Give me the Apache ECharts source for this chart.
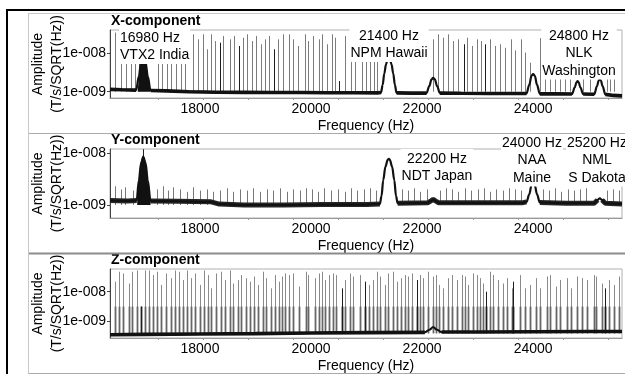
<!DOCTYPE html>
<html>
<head>
<meta charset="utf-8">
<script src="https://cdn.jsdelivr.net/npm/echarts@6/dist/echarts.min.js"></script>
<style>
  html, body { margin: 0; padding: 0; background: #fff; }
  #chart { width: 625px; height: 374px; }
</style>
</head>
<body>
<div id="chart"></div>
<script>
// VLF magnetic spectra of three components (log amplitude vs frequency)

const panelTitles = ['X-component', 'Y-component', 'Z-component'];
const freqRange = [16380, 25600];
const xLabelHz = [18000, 20000, 22000, 24000];
const xTickHz = [17250, 18060, 18870, 19680, 20490, 21300, 22110, 22920, 23730, 24540, 25350];
const yLabelAmp = [1e-9, 1e-8];
const ampRanges = [[0.685e-9, 4.08e-8], [0.56e-9, 1.21e-8], [0.263e-9, 5.95e-8]];

// noise floor (with transmitter peaks) per component: [Hz, amplitude]
const xFloor = [
  [16380, 1.15e-9], [16600, 1.12e-9], [16850, 1.1e-9], [16900, 2.5e-9], [16940, 6e-9], [16980, 8.2e-9],
  [17020, 6e-9], [17060, 2.5e-9], [17110, 1.08e-9], [17400, 1.05e-9], [17800, 1.0e-9], [18300, 0.97e-9],
  [18800, 0.96e-9], [19300, 0.95e-9], [19800, 0.95e-9], [20300, 0.94e-9], [20800, 0.94e-9], [21200, 0.93e-9],
  [21260, 0.95e-9], [21290, 1.5e-9], [21320, 3e-9], [21350, 5.2e-9], [21380, 7e-9], [21400, 7.5e-9],
  [21420, 7e-9], [21450, 5.2e-9], [21480, 3e-9], [21510, 1.5e-9], [21540, 0.93e-9], [21800, 0.92e-9],
  [22080, 0.92e-9], [22130, 1.4e-9], [22170, 2.1e-9], [22200, 2.3e-9], [22230, 2.1e-9], [22270, 1.4e-9],
  [22320, 0.92e-9], [22700, 0.91e-9], [23200, 0.9e-9], [23600, 0.9e-9], [23880, 0.9e-9], [23930, 1.5e-9],
  [23970, 2.6e-9], [24000, 2.9e-9], [24030, 2.6e-9], [24070, 1.5e-9], [24120, 0.88e-9], [24400, 0.88e-9],
  [24700, 0.87e-9], [24750, 1.3e-9], [24780, 1.75e-9], [24800, 1.9e-9], [24820, 1.75e-9], [24850, 1.3e-9],
  [24900, 0.87e-9], [25100, 0.86e-9], [25150, 1.4e-9], [25180, 1.95e-9], [25200, 2.1e-9], [25220, 1.95e-9],
  [25250, 1.4e-9], [25300, 0.85e-9], [25450, 0.8e-9], [25600, 0.78e-9]
];
const yFloor = [
  [16380, 1.22e-9], [16700, 1.2e-9], [16860, 1.22e-9], [16900, 3e-9], [16940, 6.5e-9], [16980, 8.5e-9],
  [17020, 6.5e-9], [17060, 3e-9], [17110, 1.2e-9], [17600, 1.18e-9], [18200, 1.15e-9], [18350, 1.04e-9],
  [18800, 1.0e-9], [19500, 1.0e-9], [20200, 1.02e-9], [21000, 1.02e-9], [21240, 1.05e-9], [21270, 1.5e-9],
  [21300, 3e-9], [21340, 5.5e-9], [21380, 7.5e-9], [21400, 7.8e-9], [21420, 7.5e-9], [21460, 5.5e-9],
  [21500, 3e-9], [21530, 1.5e-9], [21560, 1.08e-9], [22100, 1.1e-9], [22160, 1.2e-9], [22200, 1.28e-9],
  [22240, 1.2e-9], [22300, 1.1e-9], [23000, 1.1e-9], [23800, 1.1e-9], [23880, 1.15e-9], [23930, 1.6e-9],
  [23970, 2.4e-9], [24000, 2.65e-9], [24030, 2.4e-9], [24070, 1.6e-9], [24120, 1.12e-9], [24600, 1.08e-9],
  [25100, 1.08e-9], [25160, 1.25e-9], [25200, 1.35e-9], [25240, 1.25e-9], [25300, 1.08e-9], [25600, 1.05e-9]
];
const zFloor = [
  [16380, 0.34e-9], [17000, 0.35e-9], [18000, 0.36e-9], [19000, 0.37e-9], [20000, 0.39e-9], [21000, 0.4e-9],
  [22050, 0.41e-9], [22130, 0.5e-9], [22200, 0.62e-9], [22270, 0.5e-9], [22350, 0.42e-9], [23000, 0.42e-9],
  [24000, 0.43e-9], [25000, 0.44e-9], [25600, 0.44e-9]
];

// dense VTX2 blob outline (upper edge)
const xBlob = [[16880, 1.1e-9], [16910, 2.8e-9], [16940, 6e-9], [16965, 8.5e-9], [16980, 9.5e-9], [17000, 8e-9], [17030, 5e-9], [17060, 2.5e-9], [17100, 1.1e-9]];
const yBlob = [[16870, 1.2e-9], [16900, 3.2e-9], [16930, 6.5e-9], [16960, 8.5e-9], [16980, 9.5e-9], [17010, 7.5e-9], [17040, 4.5e-9], [17070, 2.2e-9], [17110, 1.2e-9]];

// interference comb lines: [Hz, top amplitude]
const xSpikes = [
  [16474, 3.5e-8], [16582, 3e-8], [16672, 3e-8], [16751, 2.5e-8], [16823, 3e-8], [16901, 2.8e-8], [17243, 3e-8],
  [17321, 2.6e-8], [17411, 3e-8], [17483, 2.4e-8], [17573, 3e-8], [17663, 2.8e-8], [17735, 3e-8], [17874, 3.15e-8],
  [17964, 2.33e-8], [18054, 3.15e-8], [18132, 1.28e-8], [18204, 3.15e-8], [18265, 2.1e-8], [18355, 1.9e-8],
  [18414, 2.85e-8], [18535, 2.33e-8], [18613, 2.85e-8], [18703, 1.56e-8], [18775, 2.57e-8], [18852, 3.15e-8],
  [18937, 2.1e-8], [19014, 2.85e-8], [19094, 1.73e-8], [19166, 2.33e-8], [19243, 2.85e-8], [19328, 1.28e-8],
  [19405, 2.33e-8], [19501, 3.15e-8], [19609, 3.15e-8], [19670, 2.33e-8], [19771, 1.56e-8], [19892, 3.15e-8],
  [19951, 2.1e-8], [20041, 2.85e-8], [20150, 2.33e-8], [20193, 3.15e-8], [20283, 1.73e-8], [20373, 3.15e-8],
  [20432, 2.57e-8], [20510, 1.9e-9], [20613, 2.85e-8], [20715, 1.9e-8], [20793, 3.15e-8], [20914, 3e-8],
  [20991, 3e-8], [21063, 3e-8], [21135, 3e-8], [21184, 3e-8], [22204, 2.33e-8], [22294, 3.15e-8], [22384, 2.57e-8],
  [22474, 3.15e-8], [22553, 2.1e-8], [22654, 2.33e-8], [22757, 1.73e-8], [22805, 2.57e-8], [22895, 1.56e-8],
  [22996, 2.33e-8], [23058, 2.1e-8], [23135, 1.73e-8], [23225, 2.33e-8], [23315, 1.56e-8], [23405, 1.73e-8],
  [23495, 1.4e-8], [23598, 2.33e-8], [23676, 1.2e-8], [23778, 2.33e-8], [23856, 1.05e-8], [23946, 5.7e-9],
  [24126, 2.5e-8], [24216, 2.5e-8], [24306, 2.5e-8], [24396, 2.5e-8], [24486, 2.5e-8], [24577, 2.5e-8],
  [24667, 2.5e-8], [24906, 2.5e-8], [25027, 2.5e-8], [25328, 2.5e-8], [25387, 2.5e-8], [25447, 2.5e-8]
];
const xDarkHz = [18355, 18703, 19328, 20510, 22757, 23135];

const ySpikes = [
  [16468, 2.3e-9], [16577, 2.0e-9], [16649, 2.2e-9], [16793, 1.9e-9], [16980, 1.2e-8], [17225, 2.0e-9],
  [17333, 2.3e-9], [17423, 1.9e-9], [17514, 2.2e-9], [17640, 2.0e-9], [17766, 1.8e-9], [17874, 2.2e-9],
  [18000, 1.9e-9], [18126, 2.0e-9], [18234, 1.8e-9], [18360, 1.9e-9], [18486, 2.1e-9], [18595, 1.8e-9],
  [18721, 2.0e-9], [18847, 1.9e-9], [18955, 2.1e-9], [19081, 1.8e-9], [19207, 2.0e-9], [19315, 1.9e-9],
  [19441, 2.1e-9], [19568, 1.8e-9], [19676, 2.0e-9], [19802, 1.9e-9], [19910, 2.1e-9], [20018, 2.0e-9],
  [20126, 1.8e-9], [20234, 2.1e-9], [20360, 1.9e-9], [20486, 2.0e-9], [20613, 1.8e-9], [20721, 2.1e-9],
  [20829, 1.9e-9], [20955, 2.0e-9], [21063, 2.1e-9], [21171, 1.9e-9], [21640, 2.0e-9], [21748, 1.9e-9],
  [21856, 2.1e-9], [21964, 1.8e-9], [22090, 2.0e-9], [22324, 1.9e-9], [22432, 2.1e-9], [22541, 2.0e-9],
  [22649, 1.8e-9], [22775, 2.1e-9], [22883, 1.9e-9], [23009, 2.0e-9], [23117, 2.1e-9], [23225, 1.8e-9],
  [23333, 2.0e-9], [23459, 1.9e-9], [23568, 2.1e-9], [23676, 2.0e-9], [23784, 1.9e-9], [24180, 2.0e-9],
  [24288, 1.9e-9], [24396, 2.1e-9], [24505, 1.8e-9], [24631, 2.0e-9], [24739, 1.9e-9], [24847, 2.0e-9],
  [24955, 2.1e-9], [25333, 1.9e-9], [25441, 2.0e-9], [25549, 1.9e-9]
];
const yDarkHz = [16980];

const zSpikes = [
  [16462, 2.2e-8], [16535, 4.8e-8], [16613, 4.2e-8], [16715, 1.9e-8], [16775, 4.8e-8], [16871, 5.3e-8],
  [16943, 3.1e-9], [17003, 5.3e-8], [17075, 5.3e-8], [17153, 3.7e-8], [17231, 4.8e-8], [17303, 1.7e-8],
  [17393, 4.2e-8], [17483, 2.9e-8], [17544, 5.3e-8], [17616, 4.8e-8], [17694, 2.5e-8], [17766, 5.3e-8],
  [17832, 2.9e-8], [17916, 4.2e-8], [17994, 1.7e-8], [18072, 5.3e-8], [18144, 3.7e-8], [18204, 1.3e-8],
  [18294, 4.2e-8], [18384, 4.8e-8], [18444, 2.5e-8], [18535, 5.3e-8], [18595, 1.9e-8], [18685, 2.5e-8],
  [18745, 3.7e-8], [18823, 2.9e-8], [18895, 2.2e-8], [18973, 3.3e-8], [19045, 1.7e-8], [19135, 4.8e-8],
  [19195, 2.9e-8], [19285, 1.3e-8], [19345, 3.7e-8], [19417, 2.2e-8], [19471, 3.3e-8], [19540, 4.2e-8],
  [19610, 3.7e-8], [19670, 4.2e-8], [19790, 1.5e-8], [19910, 4.8e-8], [19952, 3.7e-8], [20072, 2.9e-8],
  [20150, 4.2e-8], [20192, 4.8e-8], [20252, 2.5e-8], [20330, 3.7e-8], [20402, 4.2e-8], [20450, 3.7e-8],
  [20553, 1.3e-8], [20613, 2.5e-8], [20703, 4.2e-8], [20763, 3.3e-8], [20883, 3.7e-8], [20973, 2.2e-8],
  [21051, 1.7e-8], [21111, 2.5e-8], [21183, 4.8e-8], [21243, 3.3e-8], [21333, 1.7e-8], [21393, 4.2e-8],
  [21470, 4.8e-8], [21544, 2.2e-8], [21616, 2.9e-8], [21694, 3.7e-8], [21740, 3.3e-8], [21820, 4.2e-8],
  [21904, 2.5e-8], [21964, 3.7e-8], [22024, 2.9e-8], [22110, 4.8e-8], [22204, 3.3e-8], [22250, 3.7e-8],
  [22312, 1.7e-8], [22384, 1.3e-8], [22474, 2.9e-8], [22535, 3.7e-8], [22625, 2.5e-8], [22715, 3.7e-8],
  [22775, 3.3e-8], [22835, 1.7e-8], [22910, 4.2e-8], [22985, 3.7e-8], [23045, 2.9e-8], [23105, 1.9e-8],
  [23153, 1e-8], [23220, 4.8e-8], [23285, 3.7e-8], [23375, 2.5e-8], [23453, 1.9e-8], [23526, 2.9e-8],
  [23616, 1.3e-8], [23646, 2.2e-8], [23766, 3.7e-8], [23856, 1.3e-8], [23946, 1.7e-8], [24054, 2.9e-8],
  [24126, 1.3e-8], [24246, 3.3e-8], [24306, 3.7e-8], [24414, 1.5e-8], [24486, 2.5e-8], [24606, 2.9e-8],
  [24679, 1.3e-8], [24787, 3.3e-8], [24877, 2.9e-8], [24967, 2.5e-8], [25087, 3.7e-8], [25135, 3.3e-8],
  [25237, 1.9e-8], [25297, 1.3e-8], [25357, 2.5e-8], [25447, 1.7e-8], [25537, 3.3e-8]
];
const zDarkHz = [16943, 20553, 20973, 21904, 23153, 23646, 25297];
const zBandTop = 3.1e-9;

// base level each comb line rises from
const spikeBase = [1.0e-9, 1.0e-9, 0.38e-9];

// transmitter annotations
const stationLabels = [
  ['16980 Hz\nVTX2 India', 0],
  ['21400 Hz\nNPM Hawaii', 0],
  ['24800 Hz\nNLK\nWashington', 0],
  ['22200 Hz\nNDT Japan', 1],
  ['24000 Hz\nNAA\nMaine', 1],
  ['25200 Hz\nNML\nS Dakota', 1]
];

const FONT = '"Liberation Sans", Arial, sans-serif';
const gridTops = [30, 149, 269];
const gridH = [68, 69, 69];

function decadeLabel(v) {
  const e = Math.round(Math.log10(v));
  if (Math.abs(Math.log10(v) - e) > 1e-6) return '';
  const s = String(Math.abs(e)).padStart(3, '0');
  return '1e' + (e < 0 ? '-' : '+') + s;
}

function spikeSeries(gi, spikes, dark, base, light, strong, width, capTop) {
  return {
    type: 'custom', xAxisIndex: gi, yAxisIndex: gi, z: 2, silent: true, clip: true,
    data: spikes.map(s => [s[0], capTop ? Math.min(s[1], capTop) : s[1], dark.includes(s[0]) ? 1 : 0]),
    renderItem(params, api) {
      const p0 = api.coord([api.value(0), base]);
      const p1 = api.coord([api.value(0), api.value(1)]);
      const x = Math.round(p0[0]) + 0.5;
      return {
        type: 'line',
        shape: { x1: x, y1: p0[1], x2: x, y2: p1[1] },
        style: { stroke: api.value(2) ? strong : light, lineWidth: width }
      };
    }
  };
}

function blobSeries(gi, pts, base) {
  return {
    type: 'custom', xAxisIndex: gi, yAxisIndex: gi, z: 5, silent: true,
    data: [pts[0]],
    renderItem(params, api) {
      const poly = pts.map(p => api.coord(p));
      poly.push(api.coord([pts[pts.length - 1][0], base]));
      poly.push(api.coord([pts[0][0], base]));
      return { type: 'polygon', shape: { points: poly }, style: { fill: '#111' } };
    }
  };
}

function floorSeries(gi, pts, width, flatMax, bandWidth, bandColor) {
  const out = [{
    type: 'line', xAxisIndex: gi, yAxisIndex: gi, z: 5, silent: true,
    data: pts, showSymbol: false, smooth: 0.35, smoothMonotone: 'x',
    lineStyle: { color: '#111', width: width }
  }];
  if (bandWidth) {
    out.push({
      type: 'line', xAxisIndex: gi, yAxisIndex: gi, z: 4, silent: true,
      data: pts.map(p => [p[0], p[1] <= flatMax ? p[1] : null]),
      showSymbol: false, connectNulls: false,
      lineStyle: { color: bandColor, width: bandWidth }
    });
  }
  return out;
}

const grids = gridTops.map((t, i) => ({ left: 110, top: t, width: 512, height: gridH[i], show: true, borderColor: '#b0b0b0', borderWidth: 1, backgroundColor: 'transparent' }));

const xAxes = gridTops.map((t, i) => ({
  type: 'value', gridIndex: i, min: freqRange[0], max: freqRange[1],
  axisLine: { show: true, lineStyle: { color: '#999', width: 1 } },
  axisTick: { show: true, customValues: xTickHz, length: 2, lineStyle: { color: '#999' } },
  axisLabel: { customValues: xLabelHz, formatter: v => String(v), color: '#000', fontSize: 14, margin: 4, fontFamily: FONT },
  splitLine: { show: false },
  name: 'Frequency (Hz)', nameLocation: 'middle', nameGap: 21, nameMoveOverlap: false,
  nameTextStyle: { color: '#000', fontSize: 14, fontFamily: FONT }
}));

const yAxes = gridTops.map((t, i) => ({
  type: 'log', logBase: 10, gridIndex: i, min: ampRanges[i][0], max: ampRanges[i][1],
  axisLine: { show: true, lineStyle: { color: '#444', width: 1 } },
  axisTick: { show: true, customValues: yLabelAmp, length: 3, lineStyle: { color: '#444' } },
  axisLabel: { customValues: yLabelAmp, formatter: decadeLabel, color: '#000', fontSize: 14, margin: 4, fontFamily: FONT },
  splitLine: { show: false }, minorTick: { show: false },
  name: 'Amplitude\n(T/s/SQRT(Hz))', nameLocation: 'middle', nameGap: 43, nameRotate: 90, nameMoveOverlap: false,
  nameTextStyle: { color: '#000', fontSize: 14, lineHeight: 19, fontFamily: FONT }
}));

const series = [
  spikeSeries(0, xSpikes, xDarkHz, spikeBase[0], '#7c7c7c', '#1e1e1e', 1),
  ...floorSeries(0, xFloor, 2.2, 1.2e-9, 3.6, '#151515'),
  blobSeries(0, xBlob, spikeBase[0]),

  spikeSeries(1, ySpikes, yDarkHz, spikeBase[1], '#777', '#222', 1),
  ...floorSeries(1, yFloor, 2.2, 1.3e-9, 5, '#262626'),
  blobSeries(1, yBlob, spikeBase[1]),

  spikeSeries(2, zSpikes, zDarkHz, spikeBase[2], '#8a8a8a', '#1e1e1e', 1),
  spikeSeries(2, zSpikes, zDarkHz, spikeBase[2], '#666', '#1e1e1e', 1.8, zBandTop),
  ...floorSeries(2, zFloor, 2, 0.45e-9, 3.6, '#151515')
];

// annotation layout (pixel placement of the text blocks)
const labelPos = [[119, 28, 'left'], [389, 26, 'center'], [579, 26, 'center'], [437, 149, 'center'], [532, 133, 'center'], [597, 133, 'center']];

const graphic = [];
stationLabels.forEach((s, i) => {
  const [x, y, align] = labelPos[i];
  graphic.push({
    type: 'text', z: 50, silent: true,
    style: {
      text: s[0], x: x, y: y, fill: '#000', font: '14px ' + FONT, lineHeight: 17.5,
      align: align, textAlign: align, verticalAlign: 'top', textVerticalAlign: 'top',
      backgroundColor: '#fff', padding: [1, 1, 0, 1]
    }
  });
});
panelTitles.forEach((t, i) => {
  graphic.push({
    type: 'text', z: 55, silent: true,
    style: { text: t, x: 111, y: gridTops[i] - 9, fill: '#000', font: 'bold 14px ' + FONT, align: 'left', textAlign: 'left', verticalAlign: 'middle', textVerticalAlign: 'middle' }
  });
});
// panel frames
graphic.push(
  { type: 'line', z: 60, silent: true, shape: { x1: 28, y1: 13.5, x2: 625, y2: 13.5 }, style: { stroke: '#c8c8c8', lineWidth: 1 } },
  { type: 'line', z: 60, silent: true, shape: { x1: 28, y1: 133.5, x2: 625, y2: 133.5 }, style: { stroke: '#aaa', lineWidth: 1 } },
  { type: 'line', z: 60, silent: true, shape: { x1: 28, y1: 253.5, x2: 625, y2: 253.5 }, style: { stroke: '#8c8c8c', lineWidth: 2 } },
  { type: 'line', z: 60, silent: true, shape: { x1: 28, y1: 373.5, x2: 625, y2: 373.5 }, style: { stroke: '#aaa', lineWidth: 1 } },
  { type: 'line', z: 60, silent: true, shape: { x1: 28.5, y1: 13, x2: 28.5, y2: 374 }, style: { stroke: '#c8c8c8', lineWidth: 1 } },
  { type: 'rect', z: 61, silent: true, shape: { x: 6, y: 9, width: 619, height: 2 }, style: { fill: '#000' } },
  { type: 'rect', z: 61, silent: true, shape: { x: 6, y: 9, width: 2, height: 365 }, style: { fill: '#000' } }
);

const chart = echarts.init(document.getElementById('chart'), null, { renderer: 'canvas' });
chart.setOption({
  animation: false,
  backgroundColor: '#fff',
  textStyle: { fontFamily: FONT },
  grid: grids,
  xAxis: xAxes,
  yAxis: yAxes,
  series: series,
  graphic: graphic
});
</script>
</body>
</html>
